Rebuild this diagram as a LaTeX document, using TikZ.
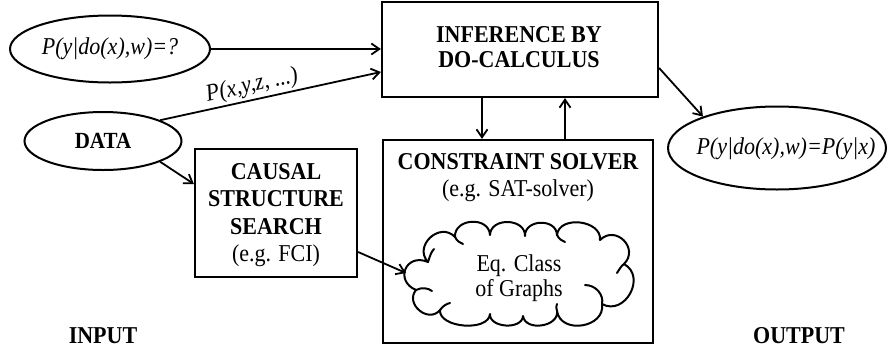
\documentclass[tikz,border=0pt]{standalone}
\usepackage{fontspec}
\usepackage{graphicx}
\setmainfont{Liberation Serif}
\usetikzlibrary{arrows.meta,shapes.geometric}
\newcommand{\vs}[1]{\scalebox{1}[1.1]{#1}}
\newcommand{\vt}[1]{\scalebox{1}[1.1]{\begin{tabular}{@{}c@{}}#1\end{tabular}}}
\begin{document}
\begin{tikzpicture}[x=1pt,y=-1pt,
  every node/.style={font=\fontsize{22}{22.7}\selectfont},
  ell/.style={ellipse,draw,line width=2pt,inner sep=0pt},
  boxx/.style={rectangle,draw,line width=2.2pt,inner sep=0pt},
  txt/.style={inner sep=0pt,align=center},
  cloudline/.style={line width=2pt,line cap=round,line join=round},
  arr/.style={draw,line width=1.8pt,-{Straight Barb[length=8pt,width=11pt,line width=1.8pt]}}]
\useasboundingbox (0,0) rectangle (888,349);
% shapes
\node[ell,minimum width=200pt,minimum height=67pt] (q) at (110,49) {};
\node[boxx,minimum width=276pt,minimum height=95pt] (inf) at (520,49.5) {};
\node[ell,minimum width=157pt,minimum height=58pt] (data) at (103,141) {};
\node[boxx,minimum width=162pt,minimum height=128pt] (css) at (276,213) {};
\node[boxx,minimum width=270pt,minimum height=203pt] (cs) at (518,241.5) {};
\node[ell,minimum width=218pt,minimum height=83pt] (out) at (777,148) {};
% cloud outline
\draw[cloudline] (416,290) .. controls (394,280.6) and (406,252.6) .. (428,262)
  .. controls (413,246) and (440,221) .. (455,237)
  .. controls (454,218) and (489,216) .. (490,235)
  .. controls (490.5,217) and (525.5,218) .. (525,236)
  .. controls (524.5,219) and (556.5,218) .. (557,235)
  .. controls (559,215) and (602,220) .. (600,240)
  .. controls (615.6,224.4) and (639.6,248.4) .. (624,264)
  .. controls (646.9,276.5) and (624.9,316.5) .. (602,304)
  .. controls (605.6,327.8) and (560.6,334.8) .. (557,311)
  .. controls (559.3,326.8) and (525.3,331.8) .. (523,316)
  .. controls (522.2,330) and (489.2,328) .. (490,314)
  .. controls (488.6,332) and (438.6,328) .. (440,310)
  .. controls (428.5,323.9) and (404.5,303.9) .. (416,290) -- cycle;
% inner strokes of the cloud
\draw[cloudline] (416,290) .. controls (422,287) and (428,288) .. (432,291);
\draw[cloudline] (428,262) .. controls (430,256) and (431,252) .. (434,249);
\draw[cloudline] (455,237) .. controls (457,241) and (460,243) .. (463,244);
\draw[cloudline] (557,235) .. controls (559,239) and (562,241) .. (565,242);
\draw[cloudline] (624,264) .. controls (621,266) and (619,270) .. (617,273);
\draw[cloudline] (585,285) .. controls (596,285) and (604,295) .. (602,304);
\draw[cloudline] (557,311) .. controls (556,308) and (556,306) .. (557,304);
\draw[cloudline] (440,310) .. controls (443,306) and (446,304) .. (450,303);
\coordinate (cloudw) at (406,273);
% texts
\node[txt] (qt) at (q) {\vs{\itshape P(y|do(x),w)=?}};
\node[txt,font=\fontsize{22}{22.7}\selectfont\bfseries] (inft) at (519,50) {\vt{INFERENCE BY\\DO-CALCULUS}};
\node[txt,font=\fontsize{21}{22.7}\selectfont\bfseries] (datat) at (103,141) {\vs{DATA}};
\node[txt,font=\fontsize{22}{24.7}\selectfont] (csst) at (276,215) {\vt{\bfseries CAUSAL\\\bfseries STRUCTURE\\\bfseries SEARCH\\(e.g. FCI)}};
\node[txt,font=\fontsize{22}{24.5}\selectfont] (cstitle) at (518,178) {\vt{\bfseries CONSTRAINT SOLVER\\(e.g. SAT-solver)}};
\node[txt,font=\fontsize{22}{22.7}\selectfont] (cloudt) at (519,279) {\vt{Eq. Class\\of Graphs}};
\node[txt] (outt) at (786,149) {\vs{\itshape P(y|do(x),w)=P(y|x)}};
\node[txt,font=\fontsize{22}{22.7}\selectfont\bfseries] (inp) at (103,336) {\vs{INPUT}};
\node[txt,font=\fontsize{22}{22.7}\selectfont\bfseries] (outp) at (799,336) {\vs{OUTPUT}};
% connectors
\draw[arr] (q.east) -- (q.east -| inf.west);
\draw[arr] (data.20) -- node[above,sloped,pos=0.43,inner sep=2pt] (lbl) {\vs{\itshape P(x,y,z, ...)}} ([yshift=-22.5pt]inf.west);
\draw[arr] (data.-20) -- ([yshift=29pt]css.west);
\draw[arr] ([yshift=-39pt]css.east) -- (cloudw);
\draw[arr] ([xshift=-38pt]inf.south) -- ([xshift=-38pt]inf.south |- cs.north);
\draw[arr] ([xshift=45pt]inf.south |- cs.north) -- ([xshift=45pt]inf.south);
\draw[arr] ([yshift=-18.5pt]inf.east) -- (out.157);
\end{tikzpicture}
\end{document}
